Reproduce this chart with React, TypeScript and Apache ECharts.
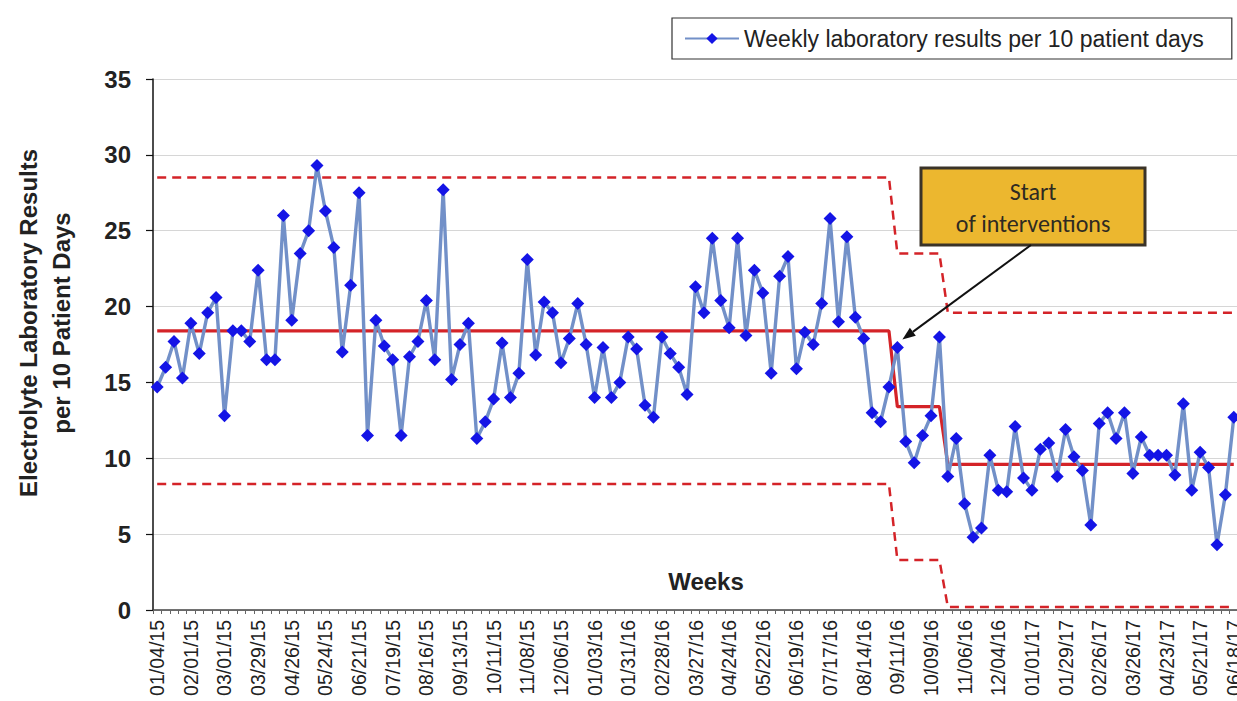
import React, { useEffect, useRef } from "react";
import * as echarts from "echarts";

// Weekly laboratory results per 10 patient days (first week 01/04/15)
const firstWeek = "2015-01-04";
const weeklyResults: number[] = [
  14.7, 16.0, 17.7, 15.3, 18.9, 16.9, 19.6, 20.6, 12.8, 18.4,
  18.4, 17.7, 22.4, 16.5, 16.5, 26.0, 19.1, 23.5, 25.0, 29.3,
  26.3, 23.9, 17.0, 21.4, 27.5, 11.5, 19.1, 17.4, 16.5, 11.5,
  16.7, 17.7, 20.4, 16.5, 27.7, 15.2, 17.5, 18.9, 11.3, 12.4,
  13.9, 17.6, 14.0, 15.6, 23.1, 16.8, 20.3, 19.6, 16.3, 17.9,
  20.2, 17.5, 14.0, 17.3, 14.0, 15.0, 18.0, 17.2, 13.5, 12.7,
  18.0, 16.9, 16.0, 14.2, 21.3, 19.6, 24.5, 20.4, 18.6, 24.5,
  18.1, 22.4, 20.9, 15.6, 22.0, 23.3, 15.9, 18.3, 17.5, 20.2,
  25.8, 19.0, 24.6, 19.3, 17.9, 13.0, 12.4, 14.7, 17.3, 11.1,
  9.7, 11.5, 12.8, 18.0, 8.8, 11.3, 7.0, 4.8, 5.4, 10.2,
  7.9, 7.8, 12.1, 8.7, 7.9, 10.6, 11.0, 8.8, 11.9, 10.1,
  9.2, 5.6, 12.3, 13.0, 11.3, 13.0, 9.0, 11.4, 10.2, 10.2,
  10.2, 8.9, 13.6, 7.9, 10.4, 9.4, 4.3, 7.6, 12.7,
];

// Control chart phases: first week index of each phase and its limits
const phaseStart: number[] = [0, 88, 94];
const centerLine: number[] = [18.4, 13.4, 9.6];
const upperLimit: number[] = [28.5, 23.5, 19.6];
const lowerLimit: number[] = [8.3, 3.3, 0.2];

const seriesName = "Weekly laboratory results per 10 patient days";
const yTitle = "Electrolyte Laboratory Results\nper 10 Patient Days";
const xTitle = "Weeks";
const annotationText = "Start\nof interventions";
const annotationIndex = 88;

const yTicks = { min: 0, max: 35, interval: 5 };

function buildCategories(): string[] {
  const start = new Date(firstWeek + "T00:00:00Z").getTime();
  return weeklyResults.map((_, i) => {
    const d = new Date(start + i * 7 * 86400000);
    const mm = String(d.getUTCMonth() + 1).padStart(2, "0");
    const dd = String(d.getUTCDate()).padStart(2, "0");
    const yy = String(d.getUTCFullYear() % 100).padStart(2, "0");
    return `${mm}/${dd}/${yy}`;
  });
}

function phaseSeries(limits: number[]): number[] {
  return weeklyResults.map((_, i) => {
    let p = 0;
    for (let k = 0; k < phaseStart.length; k++) if (i >= phaseStart[k]) p = k;
    return limits[p];
  });
}

const FONT = "Arial, 'Liberation Sans', Helvetica, sans-serif";

export default function App() {
  const ref = useRef<HTMLDivElement>(null);

  useEffect(() => {
    if (!ref.current) return;
    const chart = echarts.init(ref.current, null, { renderer: "svg" });
    const categories = buildCategories();

    const red = "#d42328";
    const dashed = {
      color: red,
      width: 2.5,
      type: [9, 6] as any,
    };

    chart.setOption({
      animation: false,
      backgroundColor: "#ffffff",
      grid: { left: 153, top: 79, right: 12, bottom: 91, containLabel: false },
      legend: {
        data: [seriesName],
        left: 672,
        top: 18,
        padding: [9, 28, 9, 12],
        itemWidth: 54,
        itemHeight: 14,
        itemGap: 4,
        borderColor: "#333333",
        borderWidth: 1.2,
        textStyle: { fontFamily: FONT, fontSize: 23, color: "#222222" },
      },
      xAxis: {
        type: "category",
        data: categories,
        boundaryGap: true,
        axisLine: { show: true, lineStyle: { color: "#444444", width: 1.5 } },
        axisTick: { show: true, interval: 0, length: 4, lineStyle: { color: "#666666" } },
        axisLabel: {
          interval: 3,
          rotate: 90,
          margin: 10,
          fontFamily: FONT,
          fontSize: 19.5,
          color: "#222222",
        },
        splitLine: { show: false },
      },
      yAxis: {
        type: "value",
        min: yTicks.min,
        max: yTicks.max,
        interval: yTicks.interval,
        axisLine: { show: true, lineStyle: { color: "#111111", width: 1.5 } },
        axisTick: { show: true, length: 7, lineStyle: { color: "#111111", width: 1.2 } },
        axisLabel: {
          margin: 22,
          fontFamily: FONT,
          fontSize: 24,
          fontWeight: "bold",
          color: "#222222",
        },
        splitLine: { show: true, lineStyle: { color: "#d6d6d6", width: 1.2 } },
      },
      series: [
        {
          name: "UCL",
          type: "line",
          data: phaseSeries(upperLimit),
          symbol: "none",
          lineStyle: dashed,
          z: 2,
        },
        {
          name: "LCL",
          type: "line",
          data: phaseSeries(lowerLimit),
          symbol: "none",
          lineStyle: dashed,
          z: 2,
        },
        {
          name: "CL",
          type: "line",
          data: phaseSeries(centerLine),
          symbol: "none",
          lineStyle: { color: red, width: 3.2 },
          z: 3,
        },
        {
          name: seriesName,
          type: "line",
          data: weeklyResults,
          symbol: "diamond",
          symbolSize: 13,
          showAllSymbol: true,
          itemStyle: { color: "#1414e6" },
          lineStyle: { color: "#7290c8", width: 3.4 },
          z: 5,
        },
      ],
    });

    // annotation: arrow from the callout box to the first intervention week
    const tip = chart.convertToPixel({ gridIndex: 0 }, [annotationIndex, weeklyResults[annotationIndex]]) as number[];
    const tx = tip[0] + 5;
    const ty = tip[1] - 8;
    const box = { x: 921, y: 168, w: 224, h: 77 };
    const sx = 1031;
    const sy = box.y + box.h;
    const dx = tx - sx;
    const dy = ty - sy;
    const len = Math.sqrt(dx * dx + dy * dy);
    const ux = dx / len;
    const uy = dy / len;
    const headLen = 13;
    const headHalf = 5;
    const bx = tx - ux * headLen;
    const by = ty - uy * headLen;

    chart.setOption({
      graphic: [
        {
          type: "text",
          x: 45,
          y: 323,
          rotation: Math.PI / 2,
          style: {
            text: yTitle,
            align: "center",
            verticalAlign: "middle",
            fontFamily: FONT,
            fontSize: 24,
            fontWeight: "bold",
            lineHeight: 33,
            fill: "#222222",
          },
          z: 10,
        },
        {
          type: "text",
          x: 706,
          y: 581,
          style: {
            text: xTitle,
            align: "center",
            verticalAlign: "middle",
            fontFamily: FONT,
            fontSize: 24,
            fontWeight: "bold",
            fill: "#222222",
          },
          z: 10,
        },
        {
          type: "rect",
          shape: { x: box.x, y: box.y, width: box.w, height: box.h },
          style: { fill: "#ecb72f", stroke: "#3a3328", lineWidth: 3 },
          z: 10,
        },
        {
          type: "text",
          x: box.x + box.w / 2,
          y: box.y + box.h / 2 + 1,
          style: {
            text: annotationText,
            align: "center",
            verticalAlign: "middle",
            fontFamily: "Carlito, Lato, 'Open Sans', sans-serif",
            fontSize: 24,
            lineHeight: 32,
            fill: "#2e2a22",
          },
          z: 11,
        },
        {
          type: "line",
          shape: { x1: sx, y1: sy, x2: bx, y2: by },
          style: { stroke: "#111111", lineWidth: 2 },
          z: 12,
        },
        {
          type: "polygon",
          shape: {
            points: [
              [tx, ty],
              [bx - uy * headHalf, by + ux * headHalf],
              [bx + uy * headHalf, by - ux * headHalf],
            ],
          },
          style: { fill: "#111111" },
          z: 12,
        },
      ],
    });

    return () => chart.dispose();
  }, []);

  return (
    <div
      style={{
        position: "absolute",
        left: 0,
        top: 0,
        width: 1237,
        height: 701,
        overflow: "hidden",
        background: "#ffffff",
      }}
    >
      <div ref={ref} style={{ width: 1250, height: 701 }} />
    </div>
  );
}
